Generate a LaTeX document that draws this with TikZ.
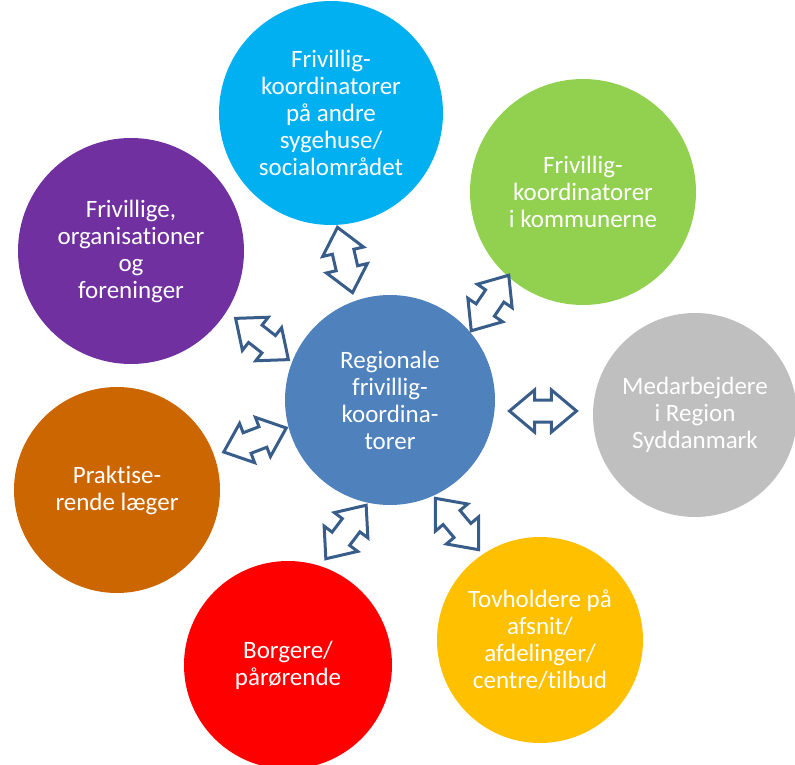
\documentclass[tikz,border=0pt]{standalone}
\usepackage{fontspec}
\setmainfont{Carlito}[Ligatures={NoCommon}]
\usetikzlibrary{shapes.arrows}
\definecolor{hubblue}{RGB}{79,129,189}
\definecolor{arrline}{RGB}{56,93,138}
\definecolor{skyblue}{RGB}{0,176,240}
\definecolor{leafgreen}{RGB}{146,208,80}
\definecolor{violet}{RGB}{112,48,160}
\definecolor{lightgray}{RGB}{191,191,191}
\definecolor{rust}{RGB}{204,102,0}
\definecolor{amber}{RGB}{255,192,0}
\begin{document}
\begin{tikzpicture}[x=1pt,y=-1pt,
		circ/.style={circle,fill=#1,inner sep=0pt,text=white,align=center,font=\fontsize{25}{27}\selectfont},
		dbl/.style={double arrow,draw=arrline,fill=white,line width=3pt,minimum height=67pt,
			inner ysep=9.5pt,inner xsep=0pt,double arrow head extend=10pt,double arrow tip angle=80}]
				\useasboundingbox (0,0) rectangle (795,765);
				\node[circ=hubblue,minimum size=210pt] (hub) at (390,400) {Regionale\\frivillig-\\koordina-\\torer};
				\node[circ=skyblue,minimum size=224pt] (kons) at (331,113) {Frivillig-\\koordinatorer\\på andre\\sygehuse/\\socialområdet};
				\node[circ=leafgreen,minimum size=226pt] (komm) at (583,192) {Frivillig-\\koordinatorer\\i kommunerne};
				\node[circ=violet,minimum size=226pt] (foren) at (131,251) {Frivillige,\\organisationer\\og\\foreninger};
				\node[circ=lightgray,minimum size=204pt] (medarb) at (695,415) {Medarbejdere\\i Region\\Syddanmark};
				\node[circ=rust,minimum size=206pt] (laeger) at (117,490) {Praktise-\\rende læger};
				\node[circ=red,minimum size=208pt] (borg) at (288,665) {Borgere/\\pårørende};
				\node[circ=amber,minimum size=206pt] (tovh) at (540,640) {Tovholdere på\\afsnit/\\afdelinger/\\centre/tilbud};
				% dobbeltpile mellem midten og cirklerne
				\node[dbl,rotate=103] (akons) at (345,260) {};
				\node[dbl,rotate=56] (akomm) at (490,303) {};
				\node[dbl,rotate=142] (aforen) at (262,339) {};
				\node[dbl] (amedarb) at (543,411) {};
				\node[dbl,rotate=21] (alaeger) at (255,440) {};
				\node[dbl,rotate=53] (aborg) at (346,532) {};
				\node[dbl,rotate=130] (atovh) at (457,524) {};
			\end{tikzpicture}
\end{document}
